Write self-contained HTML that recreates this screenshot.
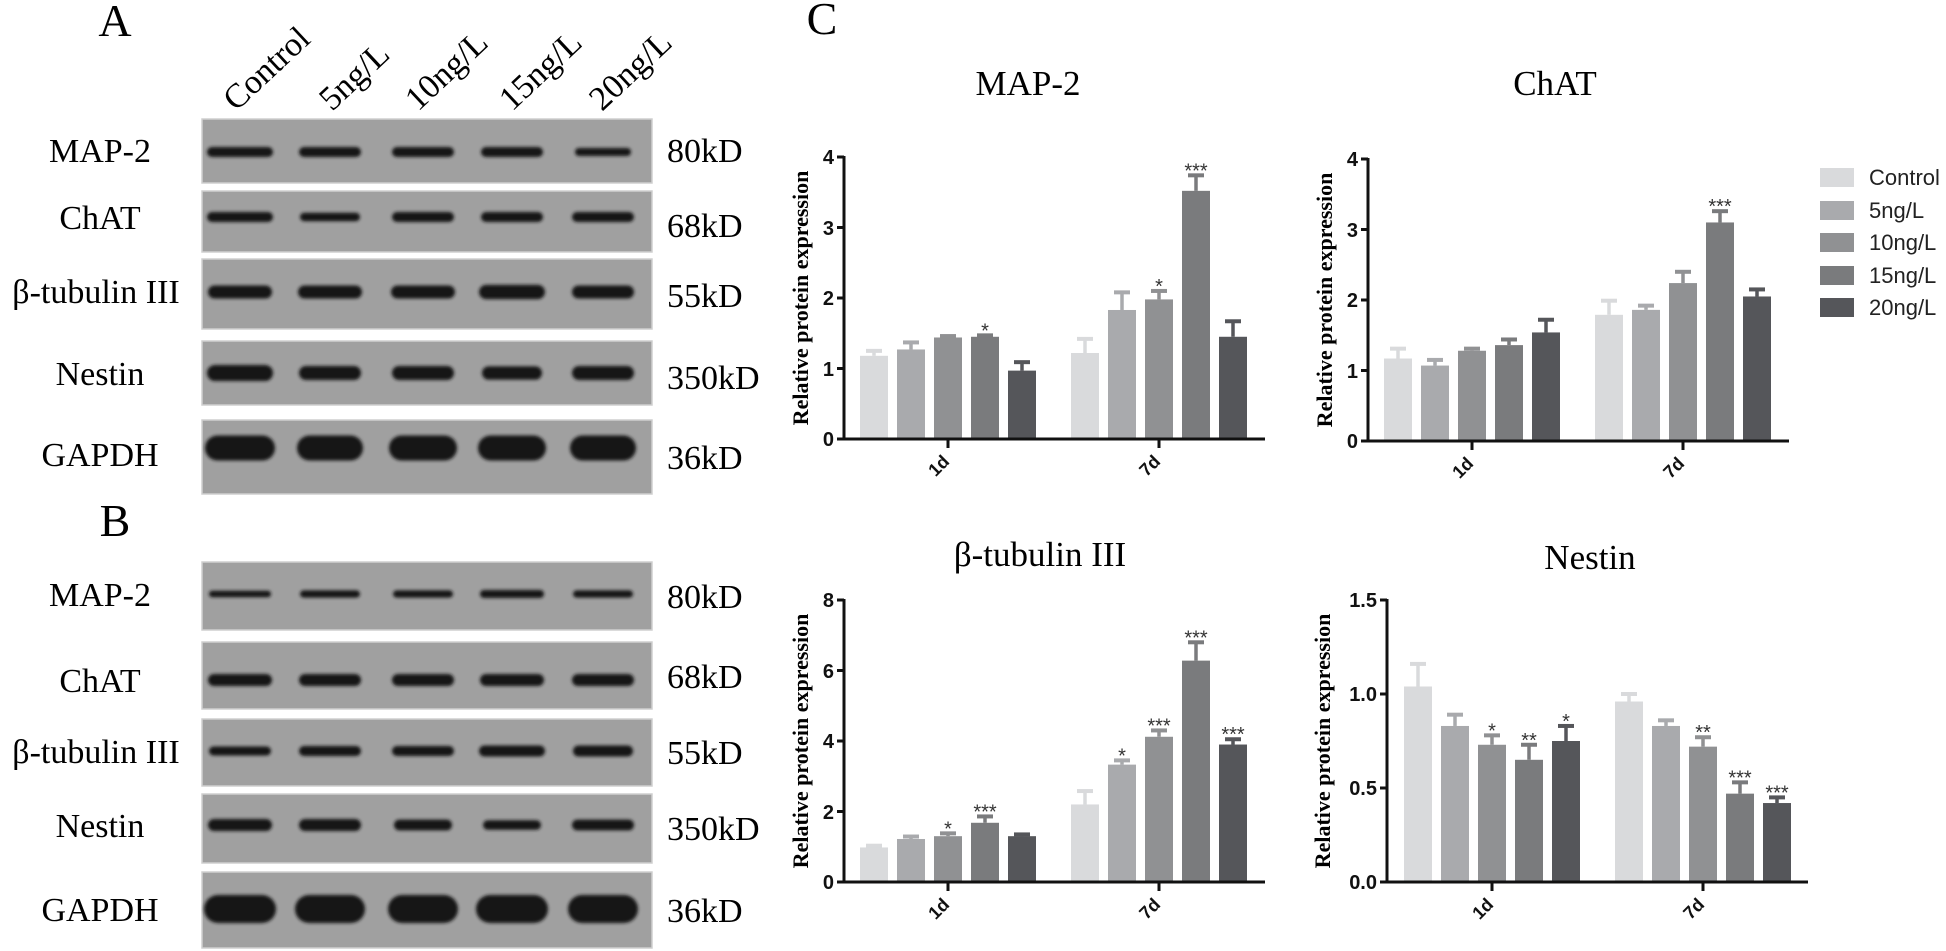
<!DOCTYPE html>
<html><head><meta charset="utf-8">
<style>
html,body{margin:0;padding:0;background:#fff;}
svg{display:block;}
.tm{font-family:"Liberation Serif",serif;fill:#000;}
.ar{font-family:"Liberation Sans",sans-serif;font-weight:bold;fill:#111;}
</style></head><body>
<svg id="s" width="1946" height="951" viewBox="0 0 1946 951" xmlns="http://www.w3.org/2000/svg">
<defs>
<filter id="bl" x="-20%" y="-50%" width="140%" height="200%"><feGaussianBlur stdDeviation="1.6"/></filter>
</defs>
<!-- panel letters -->
<text class="tm" x="115" y="36" font-size="46" text-anchor="middle">A</text>
<text class="tm" x="115" y="536" font-size="46" text-anchor="middle">B</text>
<text class="tm" x="822" y="34" font-size="46" text-anchor="middle">C</text>
<!-- lane labels -->
<g class="tm" font-size="34">
<text transform="translate(236,112) rotate(-43)">Control</text>
<text transform="translate(332,112) rotate(-43)">5ng/L</text>
<text transform="translate(418,112) rotate(-43)">10ng/L</text>
<text transform="translate(512,112) rotate(-43)">15ng/L</text>
<text transform="translate(602,112) rotate(-43)">20ng/L</text>
</g>
<g id="blots"></g>
<!-- row labels -->
<g class="tm" font-size="34" text-anchor="middle">
<text x="100" y="162">MAP-2</text>
<text x="100" y="229">ChAT</text>
<text x="96" y="303">β-tubulin III</text>
<text x="100" y="385">Nestin</text>
<text x="100" y="466">GAPDH</text>
<text x="100" y="606">MAP-2</text>
<text x="100" y="692">ChAT</text>
<text x="96" y="763">β-tubulin III</text>
<text x="100" y="837">Nestin</text>
<text x="100" y="921">GAPDH</text>
</g>
<g class="tm" font-size="34">
<text x="667" y="162">80kD</text>
<text x="667" y="237">68kD</text>
<text x="667" y="307">55kD</text>
<text x="667" y="389">350kD</text>
<text x="667" y="469">36kD</text>
<text x="667" y="608">80kD</text>
<text x="667" y="688">68kD</text>
<text x="667" y="764">55kD</text>
<text x="667" y="840">350kD</text>
<text x="667" y="922">36kD</text>
</g>
<!-- chart titles -->
<g class="tm" font-size="35" text-anchor="middle">
<text x="1028" y="95">MAP-2</text>
<text x="1555" y="95">ChAT</text>
<text x="1040" y="566">β-tubulin III</text>
<text x="1590" y="569">Nestin</text>
</g>
<!-- y labels -->
<g class="tm" font-size="22" font-weight="bold" text-anchor="middle">
<text transform="translate(808,298) rotate(-90)">Relative protein expression</text>
<text transform="translate(1332,300) rotate(-90)">Relative protein expression</text>
<text transform="translate(808,741) rotate(-90)">Relative protein expression</text>
<text transform="translate(1330,741) rotate(-90)">Relative protein expression</text>
</g>
<!-- tick labels -->
<g class="ar" font-size="20" text-anchor="end">
<text x="834" y="446">0</text><text x="834" y="376">1</text><text x="834" y="305">2</text><text x="834" y="235">3</text><text x="834" y="164">4</text>
<text x="1358" y="448">0</text><text x="1358" y="378">1</text><text x="1358" y="307">2</text><text x="1358" y="237">3</text><text x="1358" y="166">4</text>
<text x="834" y="889">0</text><text x="834" y="819">2</text><text x="834" y="748">4</text><text x="834" y="678">6</text><text x="834" y="607">8</text>
<text x="1377" y="889">0.0</text><text x="1377" y="795">0.5</text><text x="1377" y="701">1.0</text><text x="1377" y="607">1.5</text>
</g>
<g class="ar" font-size="18" text-anchor="middle">
<text transform="translate(943,470) rotate(-45)">1d</text>
<text transform="translate(1154,470) rotate(-45)">7d</text>
<text transform="translate(1467,472) rotate(-45)">1d</text>
<text transform="translate(1678,472) rotate(-45)">7d</text>
<text transform="translate(943,913) rotate(-45)">1d</text>
<text transform="translate(1154,913) rotate(-45)">7d</text>
<text transform="translate(1487,913) rotate(-45)">1d</text>
<text transform="translate(1698,913) rotate(-45)">7d</text>
</g>
<g id="charts"></g>
<!-- legend -->
<g>
<rect x="1820" y="168" width="34" height="19" fill="#d9dadc"/>
<rect x="1820" y="201" width="34" height="19" fill="#a9aaad"/>
<rect x="1820" y="233" width="34" height="19" fill="#909193"/>
<rect x="1820" y="266" width="34" height="19" fill="#7a7b7d"/>
<rect x="1820" y="298" width="34" height="19" fill="#55565a"/>
</g>
<g font-family="Liberation Sans, sans-serif" font-size="22" fill="#222">
<text x="1869" y="185">Control</text>
<text x="1869" y="218">5ng/L</text>
<text x="1869" y="250">10ng/L</text>
<text x="1869" y="283">15ng/L</text>
<text x="1869" y="315">20ng/L</text>
</g>
</svg>
<script>
var NS="http://www.w3.org/2000/svg";
function el(p,t,a){var e=document.createElementNS(NS,t);for(var k in a)e.setAttribute(k,a[k]);p.appendChild(e);return e;}
var B=document.getElementById("blots");
var lanes=[240,330,423,512,603];
var strips=[
[119,183,152,10,[1,1,1,1,.8],[66,62,62,62,56]],
[191,252,217,10,[1,.85,1,1,1],[66,60,62,62,62]],
[259,329,292,13,[1,1,1,1.1,1],[64,64,64,66,62]],
[341,405,373,14,[1.15,1,1,.95,1],[66,62,62,60,62]],
[420,494,448,25,[1,1,1,1,1],[70,66,68,68,66]],
[562,630,594,8,[.8,.9,.9,1,.9],[62,60,60,64,60]],
[642,709,680,12,[1,1,1,1,1],[64,62,62,64,62]],
[719,786,751,10,[.9,1,1,1.1,1.1],[62,62,62,66,60]],
[794,863,825,12,[1,1,.9,.8,.9],[64,62,58,58,62]],
[872,948,909,28,[1,1,1,1,1],[72,70,70,72,70]]];
strips.forEach(function(s){
 el(B,"rect",{x:202,y:s[0],width:450,height:s[1]-s[0],fill:"#a0a0a0",stroke:"#cfcfcf","stroke-width":1.5});
 for(var i=0;i<5;i++){var w=s[5][i],h=s[3]*s[4][i];
  el(B,"rect",{x:lanes[i]-w/2,y:s[2]-h/2,width:w,height:h,rx:h/2,ry:h/2,fill:"#161616",filter:"url(#bl)"});}
});
var C=document.getElementById("charts");
var cols=["#d9dadc","#a9aaad","#909193","#7a7b7d","#55565a"];
var charts=[
{ax:844,y0:439,yt:157,max:4,ticks:[0,1,2,3,4],g:[860,1071],end:1265,
 d:[[[1.18,.07],[1.27,.1],[1.44,.02],[1.45,.02,"*"],[.97,.12]],[[1.22,.2],[1.83,.25],[1.98,.12,"*"],[3.52,.22,"***"],[1.45,.22]]]},
{ax:1368,y0:441,yt:159,max:4,ticks:[0,1,2,3,4],g:[1384,1595],end:1789,
 d:[[[1.17,.14],[1.07,.08],[1.28,.03],[1.36,.08],[1.54,.18]],[[1.79,.2],[1.86,.06],[2.24,.16],[3.1,.16,"***"],[2.05,.1]]]},
{ax:844,y0:882,yt:600,max:8,ticks:[0,2,4,6,8],g:[860,1071],end:1265,
 d:[[[.98,.05],[1.22,.07],[1.3,.08,"*"],[1.68,.18,"***"],[1.3,.05]],[[2.2,.38],[3.33,.12,"*"],[4.12,.18,"***"],[6.28,.52,"***"],[3.9,.15,"***"]]]},
{ax:1387,y0:882,yt:600,max:1.5,ticks:[0,.5,1,1.5],g:[1404,1615],end:1808,
 d:[[[1.04,.12],[.83,.06],[.73,.05,"*"],[.65,.08,"**"],[.75,.08,"*"]],[[.96,.04],[.83,.03],[.72,.05,"**"],[.47,.06,"***"],[.42,.03,"***"]]]}];
charts.forEach(function(c){
 var sc=(c.y0-c.yt)/c.max;
 c.d.forEach(function(grp,gi){
  grp.forEach(function(b,i){
   var x=c.g[gi]+37*i, top=c.y0-b[0]*sc, et=c.y0-(b[0]+b[1])*sc;
   el(C,"rect",{x:x,y:top,width:28,height:c.y0-top,fill:cols[i]});
   el(C,"line",{x1:x+14,y1:top,x2:x+14,y2:et,stroke:cols[i],"stroke-width":3.5});
   el(C,"line",{x1:x+6,y1:et,x2:x+22,y2:et,stroke:cols[i],"stroke-width":4});
   if(b[2]){var t=el(C,"text",{x:x+14,y:et+2,"text-anchor":"middle","font-family":"Liberation Sans, sans-serif","font-size":"20",fill:"#333"});t.textContent=b[2];}
  });
  var tx=c.g[gi]+37*2+14;
  el(C,"line",{x1:tx,y1:c.y0,x2:tx,y2:c.y0+9,stroke:"#111","stroke-width":3});
 });
 el(C,"line",{x1:c.ax,y1:c.yt-1,x2:c.ax,y2:c.y0+1.5,stroke:"#111","stroke-width":3});
 el(C,"line",{x1:c.ax-1.5,y1:c.y0,x2:c.end,y2:c.y0,stroke:"#111","stroke-width":3});
 c.ticks.forEach(function(v){var y=c.y0-v*sc;el(C,"line",{x1:c.ax-7,y1:y,x2:c.ax,y2:y,stroke:"#111","stroke-width":3});});
});
</script>
</body></html>
